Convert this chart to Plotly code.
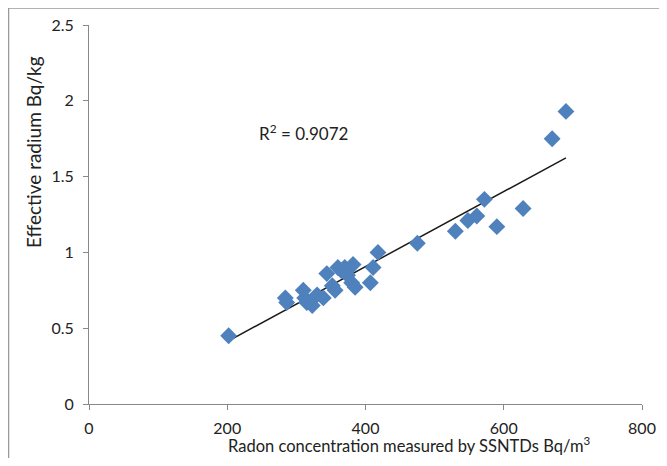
import numpy as np
import plotly.graph_objects as go

radon = [202, 284, 286, 310, 312, 315, 323, 330, 339, 344, 352, 356, 360, 365, 370, 374,
         380, 382, 385, 407, 411, 418, 475, 530, 548, 561, 572, 590, 628, 670, 690]
radium = [0.45, 0.70, 0.67, 0.75, 0.70, 0.67, 0.65, 0.72, 0.70, 0.86, 0.78, 0.75, 0.90, 0.88,
          0.90, 0.85, 0.80, 0.92, 0.77, 0.80, 0.90, 1.00, 1.06, 1.14, 1.21, 1.24, 1.35, 1.17,
          1.29, 1.75, 1.93]
r2_label = "R<sup>2</sup> = 0.9072"
x_ticks = [0, 200, 400, 600, 800]
y_ticks = [0, 0.5, 1, 1.5, 2, 2.5]

slope, intercept = np.polyfit(radon, radium, 1)
lx = [min(radon), max(radon)]
ly = [slope * v + intercept for v in lx]

FONT = "Lato, Open Sans, sans-serif"

fig = go.Figure()
fig.add_trace(go.Scatter(x=lx, y=ly, mode="lines",
                         line=dict(color="#1a1a1a", width=1.5), showlegend=False))
fig.add_trace(go.Scatter(x=radon, y=radium, mode="markers",
                         marker=dict(symbol="diamond", size=13, color="#4F81BD",
                                     line=dict(width=0)), showlegend=False))

# page body has an 8px margin; figure origin is at (8, 8) in window pixels
OFF = 8
W, H = 651, 450
left, right, top, bottom = 89, 642, 25, 404  # plot area in window pixels
ml, mt = left - OFF, top - OFF
mr = OFF + W - right
mb = OFF + H - bottom
pw, ph = W - ml - mr, H - mt - mb

def px(x):
    return (x - left) / pw

def py(y):
    return (bottom - y) / ph

fig.update_layout(
    width=W, height=H, autosize=False,
    margin=dict(l=ml, r=mr, t=mt, b=mb, pad=0, autoexpand=False),
    paper_bgcolor="white", plot_bgcolor="white",
    font=dict(family=FONT, size=16, color="#222"),
    xaxis=dict(range=[0, 800], tickvals=x_ticks, showgrid=False, zeroline=False,
               showline=True, linecolor="#888", linewidth=1, ticks="outside",
               ticklen=5, tickcolor="#888", tickfont=dict(size=16, color="#222"),
               ticklabelstandoff=5, automargin=False, fixedrange=True),
    yaxis=dict(range=[0, 2.5], tickvals=y_ticks, showgrid=False, zeroline=False,
               showline=True, linecolor="#888", linewidth=1, ticks="outside",
               ticklen=5, tickcolor="#888", tickfont=dict(size=16, color="#222"),
               ticklabelstandoff=6, automargin=False, fixedrange=True),
    annotations=[
        dict(text=r2_label, xref="paper", yref="paper", x=px(303), y=py(132),
             showarrow=False, font=dict(size=17, color="#222"),
             xanchor="center", yanchor="middle"),
        dict(text="Radon concentration measured by SSNTDs Bq/m<sup>3</sup>",
             xref="paper", yref="paper", x=px(409), y=py(457), showarrow=False,
             font=dict(size=16.5, color="#222"), xanchor="center", yanchor="bottom",
             borderpad=0),
        dict(text="Effective radium Bq/kg", textangle=-90,
             xref="paper", yref="paper", x=px(33), y=py(152), showarrow=False,
             font=dict(size=19, color="#222"), xanchor="center", yanchor="middle"),
    ],
    shapes=[
        dict(type="line", xref="paper", yref="paper", x0=px(8.5), x1=px(8.5),
             y0=py(7), y1=py(470), line=dict(color="#999", width=1.5)),
        dict(type="line", xref="paper", yref="paper", x0=px(8), x1=px(670),
             y0=py(8), y1=py(8), line=dict(color="#999", width=1.5)),
    ],
)

fig.write_html("out.html")
